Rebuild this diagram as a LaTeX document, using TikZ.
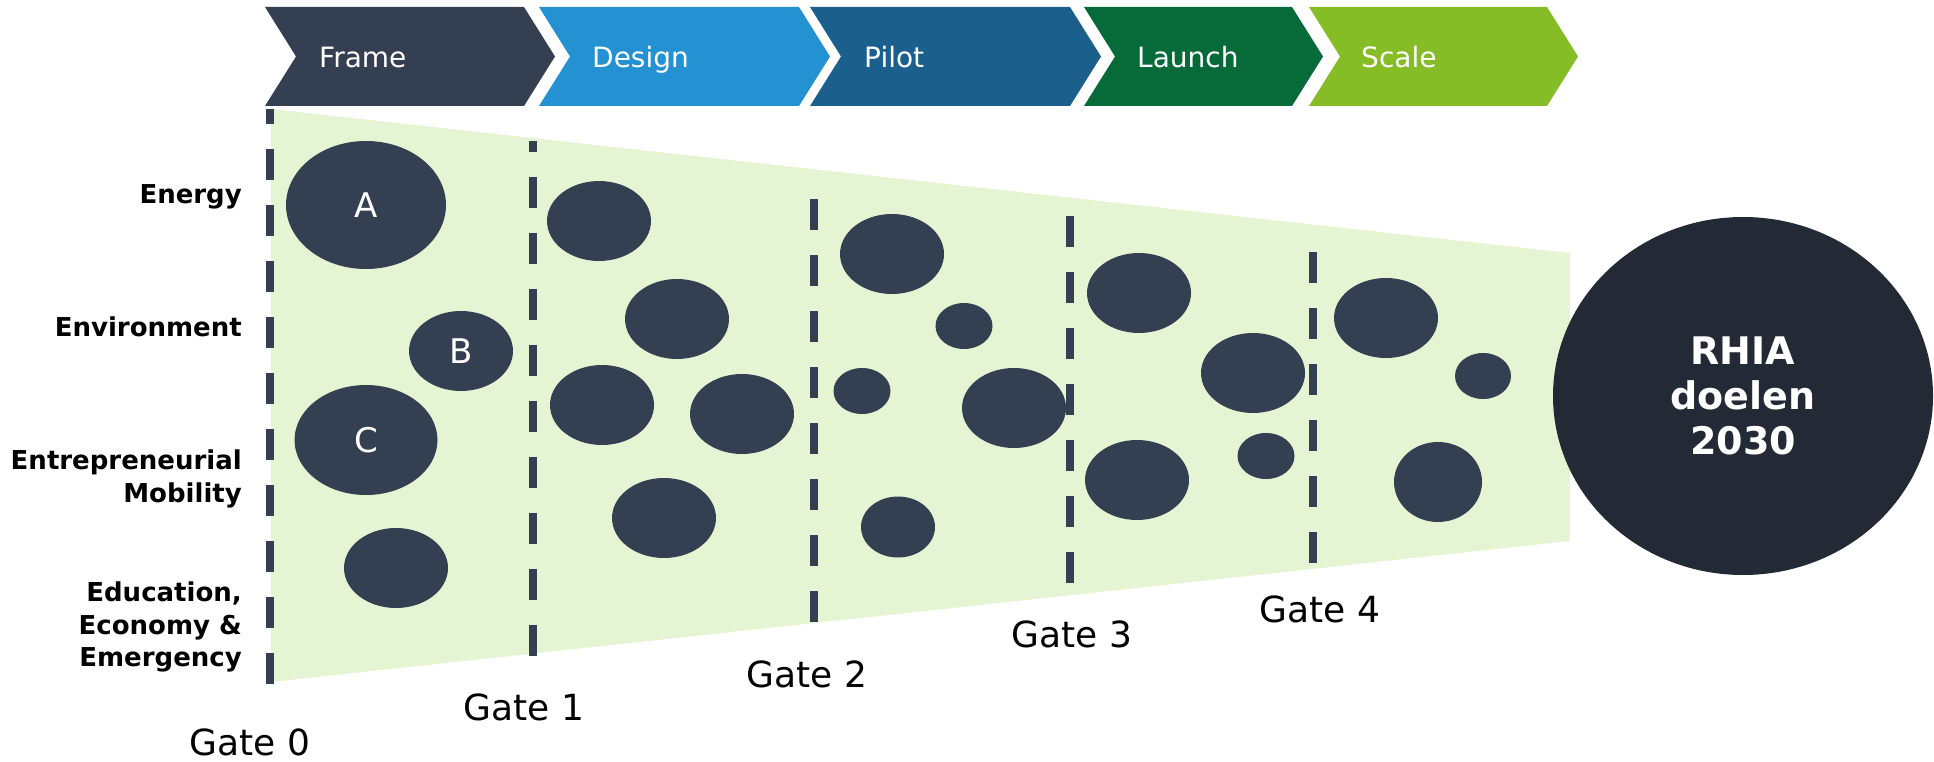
\documentclass[tikz,border=0pt]{standalone}
\usepackage{fontspec}
\setmainfont{DejaVu Sans}
\usetikzlibrary{shapes.geometric}

\definecolor{slate}{RGB}{52,63,81}
\definecolor{designblue}{RGB}{35,145,210}
\definecolor{pilotblue}{RGB}{27,96,140}
\definecolor{launchgreen}{RGB}{6,107,56}
\definecolor{scalegreen}{RGB}{134,188,37}
\definecolor{funnel}{RGB}{229,245,211}
\definecolor{goal}{RGB}{35,42,54}

\tikzset{
  bubble/.style={ellipse, fill=slate, inner sep=0pt, text=white, font=\fontsize{34}{40}\selectfont},
  gate/.style={slate, line width=8pt, dash pattern=on 31pt off 25pt},
  phase/.style={anchor=base west, text=white, inner sep=0pt, font=\fontsize{28}{34}\selectfont},
  gatelab/.style={anchor=base, inner sep=0pt, font=\fontsize{36}{43}\selectfont},
  theme/.style={anchor=east, align=right, inner sep=0pt, font=\bfseries\fontsize{26}{32.5}\selectfont}
}

\begin{document}
\begin{tikzpicture}[x=1pt,y=-1pt]
\useasboundingbox (0,0) rectangle (1934,762);
% phases
\fill[slate] (265,7) -- (524,7) -- (555,56.5) -- (524,106) -- (265,106) -- (296,56.5) -- cycle;
\fill[designblue] (539,7) -- (799,7) -- (830,56.5) -- (799,106) -- (539,106) -- (570,56.5) -- cycle;
\fill[pilotblue] (810,7) -- (1070,7) -- (1101,56.5) -- (1070,106) -- (810,106) -- (841,56.5) -- cycle;
\fill[launchgreen] (1084,7) -- (1292,7) -- (1323,56.5) -- (1292,106) -- (1084,106) -- (1115,56.5) -- cycle;
\fill[scalegreen] (1309,7) -- (1547,7) -- (1578,56.5) -- (1547,106) -- (1309,106) -- (1340,56.5) -- cycle;
\node[phase] (frame) at (319,68) {Frame};
\node[phase] (design) at (592,68) {Design};
\node[phase] (pilot) at (864,68) {Pilot};
\node[phase] (launch) at (1137,68) {Launch};
\node[phase] (scale) at (1361,68) {Scale};

% funnel and gates
\fill[funnel] (271,109) -- (1570,253) -- (1570,541) -- (271,682) -- cycle;
\draw[gate] (270,684) -- (270,109);
\draw[gate] (533,656) -- (533,141);
\draw[gate] (814,622) -- (814,198);
\draw[gate] (1070,583) -- (1070,215);
\draw[gate] (1313,563) -- (1313,250);
\node[gatelab] (g0) at (250,755) {Gate 0};
\node[gatelab] (g1) at (524,720) {Gate 1};
\node[gatelab] (g2) at (807,687) {Gate 2};
\node[gatelab] (g3) at (1072,647) {Gate 3};
\node[gatelab] (g4) at (1320,622) {Gate 4};

% themes
\node[theme] (energy) at (242,197) {Energy};
\node[theme] (environment) at (242,327) {Environment};
\node[theme] (mobility) at (242,479) {Entrepreneurial\\Mobility};
\node[theme] (education) at (242,627) {Education,\\Economy \&\\Emergency};

% ideas
\node[bubble, minimum width=160pt, minimum height=128pt] (A) at (366,205) {A};
\node[bubble, minimum width=104pt, minimum height=80pt] (B) at (461,351) {B};
\node[bubble, minimum width=143pt, minimum height=110pt] (C) at (366,440) {C};
\node[bubble, minimum width=104pt, minimum height=80pt] (d) at (396,568) {};
\node[bubble, minimum width=104pt, minimum height=80pt] (e1) at (599,221) {};
\node[bubble, minimum width=104pt, minimum height=80pt] (e2) at (677,319) {};
\node[bubble, minimum width=104pt, minimum height=80pt] (e3) at (602,405) {};
\node[bubble, minimum width=104pt, minimum height=80pt] (e4) at (742,414) {};
\node[bubble, minimum width=104pt, minimum height=80pt] (e5) at (664,518) {};
\node[bubble, minimum width=104pt, minimum height=80pt] (f1) at (892,254) {};
\node[bubble, minimum width=57pt, minimum height=46pt] (f2) at (964,326) {};
\node[bubble, minimum width=57pt, minimum height=46pt] (f3) at (862,391) {};
\node[bubble, minimum width=104pt, minimum height=80pt] (f4) at (1014,408) {};
\node[bubble, minimum width=74pt, minimum height=61pt] (f5) at (898,527) {};
\node[bubble, minimum width=104pt, minimum height=80pt] (h1) at (1139,293) {};
\node[bubble, minimum width=104pt, minimum height=80pt] (h2) at (1253,373) {};
\node[bubble, minimum width=104pt, minimum height=80pt] (h3) at (1137,480) {};
\node[bubble, minimum width=57pt, minimum height=46pt] (h4) at (1266,456) {};
\node[bubble, minimum width=104pt, minimum height=80pt] (k1) at (1386,318) {};
\node[bubble, minimum width=56pt, minimum height=46pt] (k2) at (1483,376) {};
\node[bubble, minimum width=88pt, minimum height=80pt] (k3) at (1438,482) {};

% goal
\node[ellipse, fill=goal, inner sep=0pt, minimum width=380pt, minimum height=358pt, text=white, align=center,
  font=\bfseries\fontsize{38}{45}\selectfont] (rhia) at (1743,396) {RHIA\\doelen\\2030};
\end{tikzpicture}
\end{document}
